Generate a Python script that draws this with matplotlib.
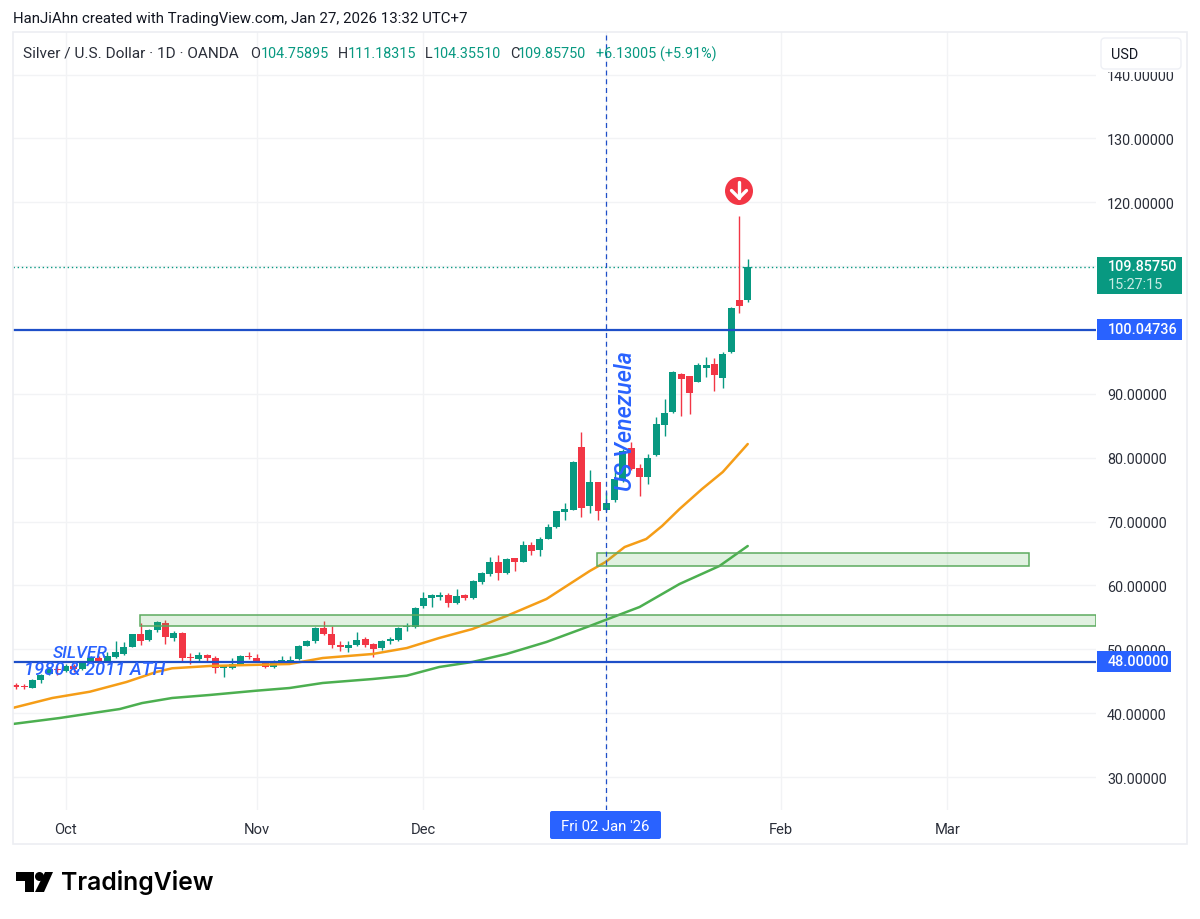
import matplotlib
matplotlib.use('Agg')
import matplotlib.pyplot as plt
from matplotlib.patches import Rectangle, Circle, Polygon, FancyBboxPatch
import numpy as np

plt.rcParams['font.family'] = ['Roboto', 'DejaVu Sans']

# daily candles, bar 0 is the first one on the left
opens = [44.26, 44.16, 44.00, 45.20, 46.13, 46.80, 46.65, 47.40, 46.91, 48.00,
         48.62, 48.05, 48.74, 49.31, 50.41, 52.45, 51.46, 53.07, 54.12, 51.73,
         52.60, 48.67, 48.49, 49.12, 48.60, 47.12, 47.07, 47.59, 48.96, 48.70,
         48.05, 47.20, 48.10, 48.17, 48.49, 50.57, 51.25, 53.33, 52.40, 50.52,
         50.20, 50.62, 51.60, 50.78, 50.20, 51.38, 51.46, 53.44, 53.44, 56.73,
         58.08, 58.14, 58.50, 57.20, 58.50, 58.08, 60.59, 61.80, 63.68, 61.95,
         64.30, 63.72, 66.34, 65.60, 67.28, 69.16, 71.56, 71.87, 81.73, 72.49,
         76.15, 71.82, 73.43, 76.67, 81.48, 78.44, 76.98, 80.43, 85.13, 87.11,
         93.11, 92.80, 91.91, 93.98, 94.63, 92.53, 96.51, 104.75, 104.75895]
highs = [44.73, 44.57, 45.35, 46.13, 47.20, 47.46, 47.70, 47.70, 48.17, 48.95,
         48.95, 49.57, 51.30, 51.19, 52.40, 54.15, 53.18, 54.48, 54.64, 52.92,
         52.76, 49.43, 49.53, 49.27, 48.95, 47.40, 48.60, 49.10, 49.53, 49.20,
         48.20, 48.40, 48.90, 48.90, 50.70, 51.40, 53.54, 54.48, 53.60, 51.35,
         51.25, 52.66, 51.87, 50.98, 51.50, 51.87, 53.54, 54.08, 56.57, 58.93,
         58.66, 58.93, 58.77, 59.45, 58.60, 60.85, 62.15, 64.46, 64.77, 64.30,
         64.35, 66.96, 66.80, 67.59, 69.58, 71.66, 72.91, 79.49, 84.08, 78.13,
         76.25, 74.59, 77.97, 81.37, 82.42, 79.07, 80.63, 86.33, 89.20, 93.59,
         93.27, 92.85, 94.84, 95.75, 95.62, 96.60, 103.53, 117.90, 111.18315]
lows = [43.79, 43.79, 43.95, 44.73, 45.97, 46.05, 46.50, 46.50, 46.75, 47.85,
        47.85, 48.00, 48.62, 49.15, 50.36, 50.67, 51.30, 52.70, 50.83, 51.35,
        48.06, 47.70, 48.22, 48.22, 46.30, 45.67, 46.90, 47.50, 48.49, 48.00,
        47.07, 47.07, 47.95, 48.00, 48.40, 50.50, 50.98, 52.20, 50.20, 49.70,
        49.58, 50.50, 50.30, 48.85, 49.94, 50.78, 51.35, 52.83, 53.38, 56.42,
        56.70, 57.77, 56.58, 57.04, 57.67, 57.83, 60.28, 61.53, 60.90, 61.85,
        62.31, 63.68, 64.77, 64.66, 67.20, 69.05, 70.30, 71.82, 70.72, 71.35,
        70.30, 71.71, 73.12, 76.15, 78.08, 73.99, 75.84, 80.35, 83.45, 87.00,
        86.58, 86.90, 91.86, 92.69, 90.50, 90.97, 96.45, 102.67, 104.3551]
closes = [44.16, 44.05, 45.25, 46.03, 46.91, 46.70, 47.43, 46.90, 48.00, 48.68,
          48.00, 48.99, 49.53, 50.41, 52.40, 51.35, 53.07, 54.27, 51.93, 52.51,
          48.59, 48.58, 49.12, 48.60, 47.03, 47.28, 47.65, 49.00, 48.75, 48.20,
          47.20, 48.10, 48.20, 48.40, 50.57, 51.30, 53.38, 52.40, 50.67, 50.43,
          50.72, 51.45, 50.62, 50.10, 51.35, 51.50, 53.38, 53.52, 56.46, 57.99,
          58.50, 58.50, 57.20, 58.30, 58.08, 60.74, 61.95, 63.68, 61.91, 64.20,
          63.72, 66.34, 65.44, 67.28, 69.16, 71.62, 71.98, 79.38, 72.18, 76.25,
          71.71, 72.87, 76.67, 81.10, 78.24, 76.98, 80.00, 85.28, 87.00, 93.48,
          92.33, 90.09, 94.52, 94.56, 92.96, 96.25, 103.40, 103.73, 109.8575]

# the two moving averages, read at some bars only
orange_bars = [-0.4, 4.4, 8.9, 13.3, 16.9, 18.8, 23.3, 28.1, 32.9, 36.9, 42.9, 47,
               50.9, 54.9, 59, 63.8, 69, 70.9, 73.2, 75.8, 77.7, 79.8, 82.5, 85, 88]
orange_vals = [40.81, 42.38, 43.36, 44.88, 46.45, 47.03, 47.39, 47.55, 47.70, 48.64, 49.27, 50.20,
               51.77, 53.18, 55.22, 57.88, 62.26, 63.67, 66.02, 67.28, 69.31, 71.97, 75.10, 77.77, 82.15]
green_bars = [-0.4, 5.25, 10.06, 12.5, 15.2, 18.8, 23.3, 28.9, 32.9, 36.9, 42.9, 47,
              50.9, 54.9, 59, 63.8, 69, 70.9, 75, 79.8, 84.6, 88]
green_vals = [38.30, 39.24, 40.18, 40.65, 41.59, 42.38, 42.85, 43.52, 43.94, 44.73, 45.35, 45.87,
              47.23, 48.02, 49.27, 51.15, 53.65, 54.60, 56.63, 60.23, 63.05, 66.18]

price_ticks = [30, 40, 50, 60, 70, 80, 90, 100, 110, 120, 130, 140]
# 100 and 110 sit behind the price tags, only their grid lines show
hidden_labels = [100, 110]
month_bars = [6, 29, 49, 71, 92, 112]
month_labels = ['Oct', 'Nov', 'Dec', '', 'Feb', 'Mar']

last_price = 109.8575
level_high = 100.04736
level_low = 48.0
cross_bar = 71
zone_low = [14.95, 53.6, 55.38]   # start bar, bottom, top
zone_mid = [69.9, 63.1, 65.16, 121.85]

UP = '#089981'
DOWN = '#f23645'
BLUE = '#2962ff'
LINE_BLUE = '#1e4fc8'
GRID = '#f2f3f5'
BORDER = '#eceef2'
TEXT = '#131722'
W, H = 1200, 920

fig = plt.figure(figsize=(W / 100, H / 100), dpi=100)
# pane from x 13 to 1096, y 33 to 811
ax = fig.add_axes([13 / W, 1 - 811 / H, (1096 - 13) / W, (811 - 33) / H])
ax.set_xlim(-0.33, 129.87)
ax.set_ylim(24.84, 146.67)
for s in ax.spines.values():
    s.set_visible(False)
ax.grid(True, color=GRID, lw=1)
ax.set_axisbelow(True)
ax.yaxis.tick_right()
ax.set_yticks(price_ticks)
ax.set_yticklabels(['' if p in hidden_labels else '%.5f' % p for p in price_ticks])
ax.set_xticks(month_bars)
ax.set_xticklabels(month_labels)
ax.tick_params(axis='y', length=0, pad=8, labelsize=10.4, labelcolor='#2a2e39')
ax.tick_params(axis='x', length=0, pad=8.5, labelsize=10.6, labelcolor='#2a2e39')

for i in range(len(opens)):
    col = UP if closes[i] >= opens[i] else DOWN
    ax.vlines(i, lows[i], highs[i], color=col, lw=1, zorder=3)
    bottom = min(opens[i], closes[i])
    height = abs(closes[i] - opens[i])
    # very small bodies still show as a dash
    ax.bar(i, max(height, 0.2), 0.84, bottom=bottom, color=col, lw=0, zorder=4)

ax.plot(orange_bars, orange_vals, color='#f59d17', lw=1.8, zorder=5, solid_capstyle='round')
ax.plot(green_bars, green_vals, color='#4caf50', lw=1.8, zorder=5, solid_capstyle='round')

ax.add_patch(Rectangle((zone_low[0], zone_low[1]), 129.87 - zone_low[0], zone_low[2] - zone_low[1],
                       fc=(0.3, 0.69, 0.31, 0.17), ec='#5cab5f', lw=1.1, zorder=5))
ax.add_patch(Rectangle((zone_mid[0], zone_mid[1]), zone_mid[3] - zone_mid[0], zone_mid[2] - zone_mid[1],
                       fc=(0.3, 0.69, 0.31, 0.17), ec='#5cab5f', lw=1.1, zorder=5))

ax.axhline(last_price, color=UP, lw=1, ls=(0, (1, 2)), zorder=2)
ax.axhline(level_high, color=LINE_BLUE, lw=1.6, zorder=6)
ax.axhline(level_low, color=LINE_BLUE, lw=1.6, zorder=6)
ax.axvline(cross_bar, color=LINE_BLUE, lw=0.9, ls=(0, (4, 3)), zorder=6)

ax.text(7.8, 49.58, 'SILVER', color=BLUE, style='italic', fontsize=12.5, fontweight='medium',
        ha='center', va='center', zorder=7)
ax.text(9.46, 46.9, '1980 & 2011 ATH', color=BLUE, style='italic', fontsize=13.2, fontweight='medium',
        ha='center', va='center', zorder=7)
ax.text(73.3, 85.9, 'US Venezuela', color=BLUE, style='italic', fontsize=16.8, fontweight='medium', rotation=90,
        ha='center', va='center', zorder=7)

# everything around the pane, in pixel coordinates
top = fig.add_axes([0, 0, 1, 1], facecolor='none')
top.set_xlim(0, W)
top.set_ylim(H, 0)
top.axis('off')

top.add_patch(Rectangle((13, 33), 1174, 812, fc='none', ec=BORDER, lw=1.2))

# USD button hides the top of the 140 label
top.add_patch(Rectangle((1097, 34), 89, 39, fc='white', ec='none', zorder=2))
top.add_patch(FancyBboxPatch((1101, 39), 80, 31, boxstyle='round,pad=0,rounding_size=4',
                             fc='white', ec='#eef0f5', lw=1, zorder=3))
top.text(1111, 55, 'USD', color=TEXT, fontsize=10.4, va='center', zorder=4)

top.text(13, 19, 'HanJiAhn created with TradingView.com, Jan 27, 2026 13:32 UTC+7',
         color=TEXT, fontsize=10.8, va='center')

top.text(23, 54, 'Silver / U.S. Dollar · 1D · OANDA', color='#2a2e39', fontsize=11.1, va='center')
legend_parts = [(250, 'O', '#2a2e39'), (260.5, '104.75895', UP), (337.4, 'H', '#2a2e39'),
                (348, '111.18315', UP), (424.7, 'L', '#2a2e39'), (432.7, '104.35510', UP),
                (509.7, 'C', '#2a2e39'), (518, '109.85750', UP), (595.5, '+6.13005 (+5.91%)', UP)]
for x, s, c in legend_parts:
    top.text(x, 54, s, color=c, fontsize=10.4, va='center')

# price tags
top.add_patch(Rectangle((1097, 258), 85, 37, fc=UP, ec='none'))
top.text(1108, 267.5, '109.85750', color='white', fontsize=10.4, va='center', fontweight='medium')
top.text(1108, 285, '15:27:15', color='#c9ebe4', fontsize=10.4, va='center')
top.add_patch(Rectangle((1097, 320), 85, 21, fc=BLUE, ec='none'))
top.text(1108, 330.5, '100.04736', color='white', fontsize=10.4, va='center', fontweight='medium')
top.add_patch(Rectangle((1097, 652), 74, 21, fc=BLUE, ec='none'))
top.text(1108, 662.5, '48.00000', color='white', fontsize=10.4, va='center', fontweight='medium')

# crosshair date
top.add_patch(FancyBboxPatch((550, 812), 111, 28, boxstyle='round,pad=0,rounding_size=2', fc=BLUE, ec='none'))
top.text(605.5, 827, "Fri 02 Jan '26", color='white', fontsize=10.7, ha='center', va='center')

# red sell marker
top.add_patch(Circle((739, 192), 14, fc=DOWN, ec='none'))
top.plot([739, 739], [183, 199], color='white', lw=2.4, solid_capstyle='round')
top.plot([731.5, 739, 746.5], [191.5, 199, 191.5], color='white', lw=2.4,
         solid_capstyle='round', solid_joinstyle='round')

# TradingView logo
top.add_patch(Polygon([(16, 873), (34, 873), (34, 893), (25, 893), (25, 882), (16, 882)], fc='black', ec='none'))
top.add_patch(Circle((39.5, 877.5), 4.5, fc='black', ec='none'))
top.add_patch(Polygon([(45, 873), (53, 873), (44, 893), (35, 893)], fc='black', ec='none'))
top.text(61, 882.5, 'TradingView', color='black', fontsize=17.8, fontweight='semibold', family='Inter', va='center')

fig.savefig('out.png', dpi=100, facecolor='white')
